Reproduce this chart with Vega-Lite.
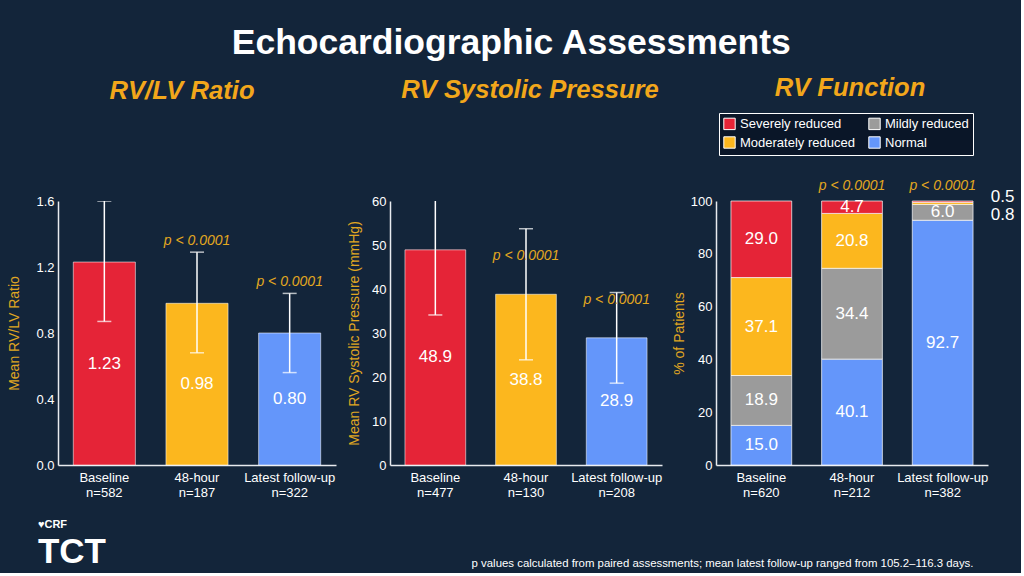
{
  "$schema": "https://vega.github.io/schema/vega-lite/v6.json",
  "background": "#13253a",
  "padding": {"left": 7, "top": 26, "right": 6, "bottom": 3},
  "title": {
    "text": "p values calculated from paired assessments; mean latest follow-up ranged from 105.2–116.3 days.",
    "orient": "bottom", "anchor": "end", "fontSize": 11.4, "fontStyle": "normal", "fontWeight": "normal",
    "color": "#ffffff", "offset": -12, "dx": -41
  },
  "vconcat": [
    {
      "title": {
        "text": "♥CRF", "subtitle": "TCT", "orient": "bottom", "anchor": "start",
        "fontSize": 11, "fontStyle": "normal", "fontWeight": "bold", "color": "#ffffff",
        "subtitleFont": "Liberation Sans", "subtitleFontSize": 35, "subtitleFontWeight": "bold",
        "subtitleColor": "#ffffff", "subtitlePadding": 5, "offset": 20, "dx": 30
      },
      "vconcat": [
        {
          "title": {
            "text": "Echocardiographic Assessments", "fontSize": 35.5, "fontWeight": "bold",
            "fontStyle": "normal", "color": "#ffffff", "anchor": "middle", "offset": 14
          },
          "bounds": "flush",
          "spacing": 54,
          "resolve": {"scale": {"color": "independent"}, "legend": {"color": "independent"}},
          "hconcat": [
            {
              "width": 278,
              "height": 264,
              "title": {"text": "RV/LV Ratio", "offset": 78, "dx": -15},
              "data": {"name": "rvlv"},
              "transform": [{"calculate": "datum.mean / 2", "as": "mid"}],
              "encoding": {
                "x": {
                  "field": "tp", "type": "nominal", "sort": null, "title": null,
                  "scale": {"paddingInner": 0.33, "paddingOuter": 0.165},
                  "axis": {"labelExpr": "split(datum.label, '|')"}
                }
              },
              "layer": [
                {
                  "mark": {"type": "bar", "stroke": "#ffffff", "strokeOpacity": 0.55, "strokeWidth": 1},
                  "encoding": {
                    "y": {
                      "field": "mean", "type": "quantitative",
                      "scale": {"domain": [0, 1.6], "nice": false},
                      "axis": {"values": [0, 0.4, 0.8, 1.2, 1.6], "format": ".1f", "title": "Mean RV/LV Ratio", "titlePadding": 14}
                    },
                    "color": {
                      "field": "tp", "type": "nominal", "legend": null,
                      "scale": {"domain": ["Baseline|n=582", "48-hour|n=187", "Latest follow-up|n=322"], "range": ["#e52437", "#fcb71e", "#6496fa"]}
                    }
                  }
                },
                {
                  "mark": {"type": "rule", "color": "#ffffff", "strokeWidth": 1.5, "clip": true},
                  "encoding": {"y": {"field": "lo", "type": "quantitative"}, "y2": {"field": "hi"}}
                },
                {
                  "mark": {"type": "tick", "color": "#ffffff", "size": 14, "thickness": 1.5, "orient": "horizontal", "clip": true},
                  "encoding": {"y": {"field": "lo", "type": "quantitative"}}
                },
                {
                  "mark": {"type": "tick", "color": "#ffffff", "size": 14, "thickness": 1.5, "orient": "horizontal", "clip": true},
                  "encoding": {"y": {"field": "hi", "type": "quantitative"}}
                },
                {
                  "mark": {"type": "text", "color": "#ffffff", "fontSize": 17},
                  "encoding": {
                    "y": {"field": "mid", "type": "quantitative"},
                    "text": {"field": "mean", "type": "quantitative", "format": ".2f"}
                  }
                },
                {
                  "mark": {"type": "text", "color": "#e3a81f", "fontSize": 14, "fontStyle": "italic", "baseline": "bottom", "dy": -4},
                  "encoding": {
                    "y": {"field": "hi", "type": "quantitative"},
                    "text": {"field": "p"}
                  }
                }
              ]
            },
            {
              "width": 272,
              "height": 264,
              "title": {"text": "RV Systolic Pressure", "offset": 91, "dx": 4},
              "data": {"name": "rvsp"},
              "transform": [{"calculate": "datum.mean / 2", "as": "mid"}],
              "encoding": {
                "x": {
                  "field": "tp", "type": "nominal", "sort": null, "title": null,
                  "scale": {"paddingInner": 0.33, "paddingOuter": 0.165},
                  "axis": {"labelExpr": "split(datum.label, '|')"}
                }
              },
              "layer": [
                {
                  "mark": {"type": "bar", "stroke": "#ffffff", "strokeOpacity": 0.55, "strokeWidth": 1},
                  "encoding": {
                    "y": {
                      "field": "mean", "type": "quantitative",
                      "scale": {"domain": [0, 60], "nice": false},
                      "axis": {"values": [0, 10, 20, 30, 40, 50, 60], "format": "d", "title": "Mean RV Systolic Pressure (mmHg)", "titlePadding": 10}
                    },
                    "color": {
                      "field": "tp", "type": "nominal", "legend": null,
                      "scale": {"domain": ["Baseline|n=477", "48-hour|n=130", "Latest follow-up|n=208"], "range": ["#e52437", "#fcb71e", "#6496fa"]}
                    }
                  }
                },
                {
                  "mark": {"type": "rule", "color": "#ffffff", "strokeWidth": 1.5, "clip": true},
                  "encoding": {"y": {"field": "lo", "type": "quantitative"}, "y2": {"field": "hi"}}
                },
                {
                  "mark": {"type": "tick", "color": "#ffffff", "size": 14, "thickness": 1.5, "orient": "horizontal", "clip": true},
                  "encoding": {"y": {"field": "lo", "type": "quantitative"}}
                },
                {
                  "mark": {"type": "tick", "color": "#ffffff", "size": 14, "thickness": 1.5, "orient": "horizontal", "clip": true},
                  "encoding": {"y": {"field": "hi", "type": "quantitative"}}
                },
                {
                  "mark": {"type": "text", "color": "#ffffff", "fontSize": 17},
                  "encoding": {
                    "y": {"field": "mid", "type": "quantitative"},
                    "text": {"field": "mean", "type": "quantitative", "format": ".1f"}
                  }
                },
                {
                  "mark": {"type": "text", "color": "#e3a81f", "fontSize": 14, "fontStyle": "italic", "dy": -38},
                  "encoding": {
                    "y": {"field": "mean", "type": "quantitative"},
                    "text": {"field": "p"}
                  }
                }
              ]
            },
            {
              "width": 272,
              "height": 264,
              "title": {"text": "RV Function", "offset": 11, "dx": -2},
              "data": {"name": "rvf"},
              "transform": [
                {"stack": "pct", "groupby": ["tp"], "sort": [{"field": "ord", "order": "ascending"}], "as": ["lo", "hi"]},
                {"calculate": "(datum.lo + datum.hi) / 2", "as": "mid"}
              ],
              "encoding": {
                "x": {
                  "field": "tp", "type": "nominal", "sort": null, "title": null,
                  "scale": {"paddingInner": 0.33, "paddingOuter": 0.165},
                  "axis": {"labelExpr": "split(datum.label, '|')"}
                }
              },
              "layer": [
                {
                  "mark": {"type": "bar", "stroke": "#ffffff", "strokeOpacity": 0.7, "strokeWidth": 1},
                  "encoding": {
                    "y": {
                      "field": "lo", "type": "quantitative",
                      "scale": {"domain": [0, 100], "nice": false},
                      "axis": {"values": [0, 20, 40, 60, 80, 100], "format": "d", "title": "% of Patients", "titlePadding": 4}
                    },
                    "y2": {"field": "hi"},
                    "color": {
                      "field": "cat", "type": "nominal",
                      "scale": {
                        "domain": ["Severely reduced", "Moderately reduced", "Mildly reduced", "Normal"],
                        "range": ["#e52437", "#fcb71e", "#9b9b9b", "#6496fa"]
                      },
                      "legend": {
                        "orient": "none", "legendX": 3, "legendY": -88, "columns": 2, "title": null,
                        "symbolType": "square", "symbolSize": 130, "symbolStrokeColor": "#ffffff", "symbolStrokeWidth": 1,
                        "symbolOpacity": 1, "labelColor": "#ffffff", "labelFontSize": 13, "labelFont": "Liberation Sans",
                        "strokeColor": "#ffffff", "fillColor": "#0a1628", "padding": 4, "columnPadding": 11, "rowPadding": 2
                      }
                    }
                  }
                },
                {
                  "transform": [{"filter": "datum.pct >= 2"}],
                  "mark": {"type": "text", "color": "#ffffff", "fontSize": 17},
                  "encoding": {
                    "y": {"field": "mid", "type": "quantitative"},
                    "text": {"field": "pct", "type": "quantitative", "format": ".1f"}
                  }
                },
                {
                  "transform": [{"filter": "datum.pct < 2 && datum.cat == 'Severely reduced'"}],
                  "mark": {"type": "text", "color": "#ffffff", "fontSize": 17, "dx": 60, "dy": -5},
                  "encoding": {
                    "y": {"field": "mid", "type": "quantitative"},
                    "text": {"field": "pct", "type": "quantitative", "format": ".1f"}
                  }
                },
                {
                  "transform": [{"filter": "datum.pct < 2 && datum.cat == 'Moderately reduced'"}],
                  "mark": {"type": "text", "color": "#ffffff", "fontSize": 17, "dx": 60, "dy": 12},
                  "encoding": {
                    "y": {"field": "mid", "type": "quantitative"},
                    "text": {"field": "pct", "type": "quantitative", "format": ".1f"}
                  }
                },
                {
                  "transform": [{"filter": "datum.cat == 'Severely reduced' && datum.tp != 'Baseline|n=620'"}],
                  "mark": {"type": "text", "color": "#e3a81f", "fontSize": 14, "fontStyle": "italic", "baseline": "bottom", "dy": -8},
                  "encoding": {
                    "y": {"datum": 100, "type": "quantitative"},
                    "text": {"value": "p < 0.0001"}
                  }
                }
              ]
            }
          ]
        }
      ]
    }
  ],
  "datasets": {
    "rvlv": [
      {"tp": "Baseline|n=582", "mean": 1.23, "lo": 0.87, "hi": 1.6, "p": ""},
      {"tp": "48-hour|n=187", "mean": 0.98, "lo": 0.68, "hi": 1.29, "p": "p < 0.0001"},
      {"tp": "Latest follow-up|n=322", "mean": 0.8, "lo": 0.56, "hi": 1.04, "p": "p < 0.0001"}
    ],
    "rvsp": [
      {"tp": "Baseline|n=477", "mean": 48.9, "lo": 34.1, "hi": 63.7, "p": ""},
      {"tp": "48-hour|n=130", "mean": 38.8, "lo": 23.9, "hi": 53.7, "p": "p < 0.0001"},
      {"tp": "Latest follow-up|n=208", "mean": 28.9, "lo": 18.6, "hi": 39.2, "p": "p < 0.0001"}
    ],
    "rvf": [
      {"tp": "Baseline|n=620", "cat": "Normal", "ord": 1, "pct": 15.0},
      {"tp": "Baseline|n=620", "cat": "Mildly reduced", "ord": 2, "pct": 18.9},
      {"tp": "Baseline|n=620", "cat": "Moderately reduced", "ord": 3, "pct": 37.1},
      {"tp": "Baseline|n=620", "cat": "Severely reduced", "ord": 4, "pct": 29.0},
      {"tp": "48-hour|n=212", "cat": "Normal", "ord": 1, "pct": 40.1},
      {"tp": "48-hour|n=212", "cat": "Mildly reduced", "ord": 2, "pct": 34.4},
      {"tp": "48-hour|n=212", "cat": "Moderately reduced", "ord": 3, "pct": 20.8},
      {"tp": "48-hour|n=212", "cat": "Severely reduced", "ord": 4, "pct": 4.7},
      {"tp": "Latest follow-up|n=382", "cat": "Normal", "ord": 1, "pct": 92.7},
      {"tp": "Latest follow-up|n=382", "cat": "Mildly reduced", "ord": 2, "pct": 6.0},
      {"tp": "Latest follow-up|n=382", "cat": "Moderately reduced", "ord": 3, "pct": 0.8},
      {"tp": "Latest follow-up|n=382", "cat": "Severely reduced", "ord": 4, "pct": 0.5}
    ]
  },
  "config": {
    "view": {"stroke": null},
    "font": "Liberation Sans",
    "axis": {
      "domainColor": "#e8ebef", "domainWidth": 1.5, "ticks": false, "grid": false,
      "labelColor": "#ffffff", "labelFontSize": 13, "labelFont": "Liberation Sans", "labelPadding": 4,
      "titleColor": "#e0a722", "titleFontSize": 14, "titleFontWeight": "normal", "titleFont": "Liberation Sans"
    },
    "axisX": {"labelAngle": 0, "labelLineHeight": 15, "labelPadding": 6},
    "title": {
      "font": "Liberation Sans", "subtitleFont": "Liberation Sans", "color": "#f2a71b", "fontSize": 25.6,
      "fontStyle": "italic", "fontWeight": "bold", "anchor": "middle"
    },
    "text": {"font": "Liberation Sans"}
  }
}
